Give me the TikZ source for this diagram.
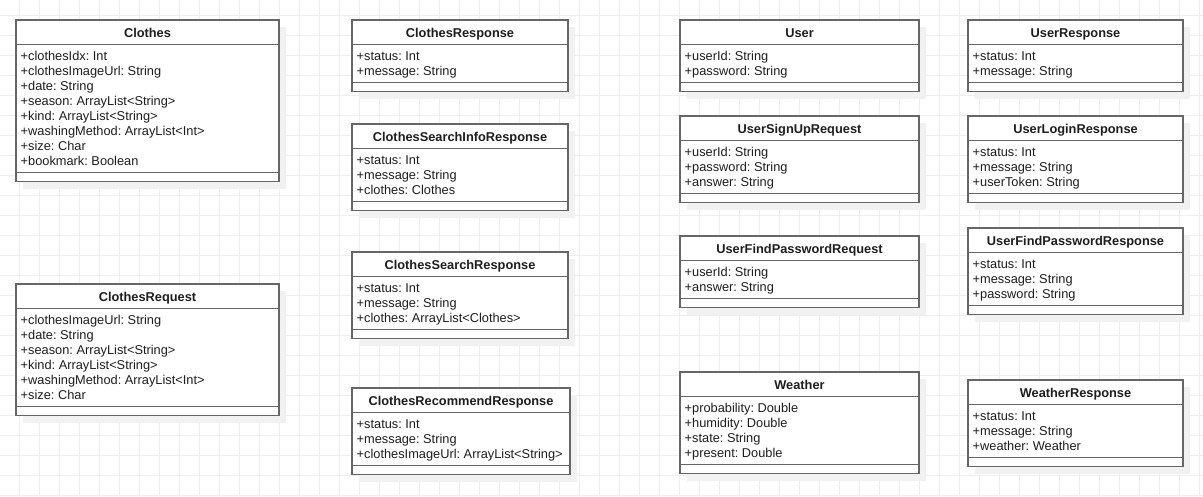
\documentclass[tikz,border=0pt]{standalone}
\usepackage{fontspec}
\setmainfont{Liberation Sans}
\frenchspacing
\definecolor{gridc}{HTML}{EEEEEE}
\definecolor{shadowc}{HTML}{F1F1F1}
\definecolor{linec}{HTML}{666666}
\definecolor{textc}{HTML}{1E1E1E}
\tikzset{
  classframe/.style={draw=linec, line width=1.7pt, fill=white, inner sep=0pt, outer sep=0pt, anchor=north west},
  sepline/.style={draw=linec, line width=1.7pt},
  titletext/.style={anchor=base, inner sep=0pt, font=\fontsize{12.8}{15}\selectfont\bfseries, text=textc},
  attrtext/.style={anchor=base west, inner sep=0pt, font=\fontsize{12.8}{15}\selectfont, text=textc},
  shadowbox/.style={fill=shadowc},
  gridline/.style={draw=gridc, line width=1pt}
}
\newcommand\classbox[6]{%
  \foreach \a [count=\i] in {#6} {\xdef\nrows{\i}}%
  \pgfmathsetmacro\bot{#4+41.5+15*\nrows}%
  \fill[shadowbox] (#2+7,#4+7) rectangle (#3+7,\bot+7);
  \node[classframe, minimum width={#3-#2}, minimum height={\bot-#4}] (#1) at (#2,#4) {};
  \draw[sepline] ([yshift=-24.5pt]#1.north west) -- ([yshift=-24.5pt]#1.north east);
  \draw[sepline] ([yshift=9pt]#1.south west) -- ([yshift=9pt]#1.south east);
  \node[titletext] (#1-t) at ({(#2+#3)/2}, #4+17) {#5};
  \foreach \a [count=\i] in {#6} {\node[attrtext] (#1-\i) at (#2+4.5, #4+25+15*\i) {\a};}
}
\begin{document}
\begin{tikzpicture}[x=1pt, y=-1pt]
\useasboundingbox (0,0) rectangle (1203,496);
\fill[white] (0,0) rectangle (1203,496);
\foreach \k in {0,...,59} {\draw[gridline] (19.5+20*\k,0) -- (19.5+20*\k,496);}
\foreach \k in {0,...,24} {\draw[gridline] (0,15+20*\k) -- (1203,15+20*\k);}

\classbox{clothes}{16}{279}{20}{Clothes}{+clothesIdx: Int,+clothesImageUrl: String,+date: String,+season: ArrayList<String>,+kind: ArrayList<String>,+washingMethod: ArrayList<Int>,+size: Char,+bookmark: Boolean}
\classbox{clothesreq}{16}{279}{284}{ClothesRequest}{+clothesImageUrl: String,+date: String,+season: ArrayList<String>,+kind: ArrayList<String>,+washingMethod: ArrayList<Int>,+size: Char}

\classbox{clothesresp}{352}{568}{20}{ClothesResponse}{+status: Int,+message: String}
\classbox{csinfo}{352}{568}{124}{ClothesSearchInfoResponse}{+status: Int,+message: String,+clothes: Clothes}
\classbox{csearch}{352}{568}{252}{ClothesSearchResponse}{+status: Int,+message: String,+clothes: ArrayList<Clothes>}
\classbox{crecom}{352}{570}{388}{ClothesRecommendResponse}{+status: Int,+message: String,+clothesImageUrl: ArrayList<String>}

\classbox{user}{680}{919}{20}{User}{+userId: String,+password: String}
\classbox{usignup}{680}{919}{116}{UserSignUpRequest}{+userId: String,+password: String,+answer: String}
\classbox{ufindreq}{680}{919}{236}{UserFindPasswordRequest}{+userId: String,+answer: String}
\classbox{weather}{680}{919}{372}{Weather}{+probability: Double,+humidity: Double,+state: String,+present: Double}

\classbox{uresp}{968}{1183}{20}{UserResponse}{+status: Int,+message: String}
\classbox{ulogin}{968}{1183}{116}{UserLoginResponse}{+status: Int,+message: String,+userToken: String}
\classbox{ufindresp}{968}{1183}{228}{UserFindPasswordResponse}{+status: Int,+message: String,+password: String}
\classbox{wresp}{968}{1183}{380}{WeatherResponse}{+status: Int,+message: String,+weather: Weather}
\end{tikzpicture}
\end{document}
